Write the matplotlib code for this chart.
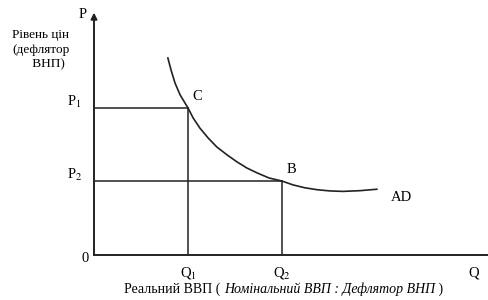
import matplotlib
matplotlib.use("Agg")
import matplotlib.pyplot as plt

plt.rcParams["mathtext.fontset"] = "stix"

AD_Q = [1.87, 1.95, 2.05, 2.18, 2.38, 2.51, 2.68, 2.89, 3.11, 3.37, 3.62, 3.87, 4.13,
        4.43, 4.76, 5.04, 5.34, 5.65, 5.97, 6.30, 6.73, 7.16]
AD_P = [8.21, 7.71, 7.17, 6.67, 6.125, 5.71, 5.29, 4.875, 4.50, 4.17, 3.88, 3.625, 3.42,
        3.21, 3.08, 2.92, 2.80, 2.72, 2.67, 2.65, 2.68, 2.74]
Q_LEVELS = [2.38, 4.76]
P_LEVELS = [6.125, 3.08]
Q_TICKS = ["Q$_1$", "Q$_2$"]
P_TICKS = ["P$_1$", "P$_2$"]
POINTS = ["C", "B"]

W, H = 489, 300
SERIF = ["Liberation Serif", "DejaVu Serif"]
INK = "#222222"

fig = plt.figure(figsize=(W / 100, H / 100), dpi=100)
x0, y0, x1, y1 = 94, 45, 489, 285   # axes box in px (from bottom)
ax = fig.add_axes([x0 / W, y0 / H, (x1 - x0) / W, (y1 - y0) / H])
ax.set_xlim(0, 10)
ax.set_ylim(0, 10)
ax.axis("off")

# axes
ax.plot([0, 10], [0, 0], color=INK, lw=1.4, clip_on=False)
ax.annotate("", xy=(0, 10.1), xytext=(0, 0), annotation_clip=False,
            arrowprops=dict(arrowstyle="-|>", color=INK, lw=1.4, mutation_scale=9,
                            shrinkA=0, shrinkB=0))

# guide lines
for q, p in zip(Q_LEVELS, P_LEVELS):
    ax.plot([0, q], [p, p], color=INK, lw=1.1)
    ax.plot([q, q], [0, p], color=INK, lw=1.1)

ax.plot(AD_Q, AD_P, color=INK, lw=1.2)

fs = 10.5
for q, lab in zip(Q_LEVELS, Q_TICKS):
    ax.text(q, -0.75, lab, ha="center", va="center", fontsize=fs, family=SERIF)
for p, lab in zip(P_LEVELS, P_TICKS):
    ax.text(-0.5, p + 0.25, lab, ha="center", va="center", fontsize=fs, family=SERIF)
for q, p, lab in zip(Q_LEVELS, P_LEVELS, POINTS):
    ax.text(q + 0.12, p + 0.2, lab, ha="left", va="bottom", fontsize=fs, family=SERIF)
ax.text(AD_Q[-1] + 0.35, AD_P[-1] - 0.35, "AD", ha="left", va="center", fontsize=fs, family=SERIF)
ax.text(-0.22, -0.13, "0", ha="center", va="center", fontsize=fs, family=SERIF)
ax.text(-0.28, 10.0, "P", ha="center", va="center", fontsize=fs, family=SERIF)
ax.text(9.6, -0.75, "Q", ha="center", va="center", fontsize=fs, family=SERIF)

fig.text(12 / W, 1 - 50 / H, "Рівень цін\n(дефлятор\n      ВНП)", ha="left", va="center",
         fontsize=9.5, family=SERIF, linespacing=1.3)

# x-axis title with italic part
fx = 10
t1 = fig.text(0, 0, "Реальний ВВП ( ", fontsize=fx, family=SERIF)
t2 = fig.text(0, 0, "Номінальний ВВП : Дефлятор ВНП", fontsize=fx, family=SERIF,
              style="italic")
t3 = fig.text(0, 0, " )", fontsize=fx, family=SERIF)
fig.canvas.draw()
r = fig.canvas.get_renderer()
ws = [t.get_window_extent(r).width for t in (t1, t2, t3)]
start = 284 - sum(ws) / 2
yb = 1 - 293 / H
xx = start
for t, w in zip((t1, t2, t3), ws):
    t.set_position((xx / W, yb))
    xx += w

fig.savefig("out.png", dpi=100, facecolor="white")
